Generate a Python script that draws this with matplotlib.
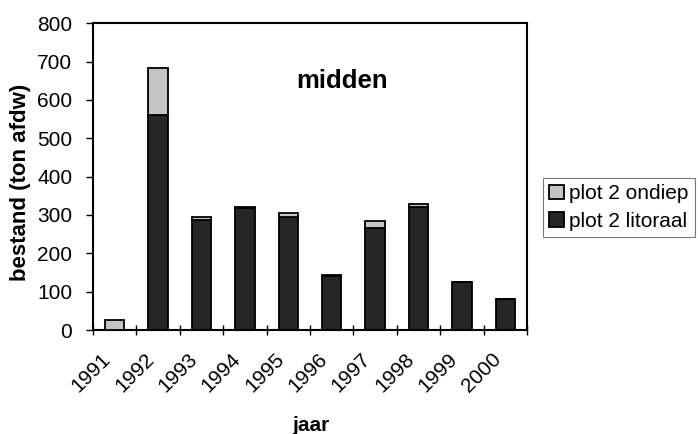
import numpy as np
import matplotlib
matplotlib.use("Agg")
import matplotlib.pyplot as plt
import matplotlib.transforms as mtransforms

plt.rcParams["font.family"] = ["Liberation Sans", "DejaVu Sans"]

# data
years = ["1991", "1992", "1993", "1994", "1995", "1996", "1997", "1998", "1999", "2000"]
litoraal = [0, 561, 288, 318, 295, 142, 265, 322, 125, 82]
ondiep = [25, 122, 7, 2, 10, 1, 20, 7, 0, 0]

fig = plt.figure(figsize=(6.98, 4.34), dpi=100)
ax = fig.add_axes([0.1332, 0.2396, 0.6218, 0.7068])

x = np.arange(len(years))
w = 0.45
ax.bar(x, litoraal, width=w, color="#262626", edgecolor="black", linewidth=1.3,
       label="plot 2 litoraal", zorder=3)
ax.bar(x, ondiep, width=w, bottom=litoraal, color="#c4c4c4", edgecolor="black",
       linewidth=1.3, label="plot 2 ondiep", zorder=3)

ax.set_xlim(-0.5, len(years) - 0.5)
ax.set_ylim(0, 800)
ax.set_yticks(np.arange(0, 801, 100))

# ticks between categories, labels at the centres
ax.set_xticks(np.arange(-0.5, len(years), 1.0))
ax.set_xticklabels([])
ax.set_xticks(x, minor=True)
ax.set_xticklabels(years, minor=True, rotation=45, ha="right", va="top",
                   rotation_mode="anchor")
ax.tick_params(axis="x", which="minor", length=0, pad=14, labelsize=15)
ax.tick_params(axis="x", which="major", direction="inout", length=7, width=1)
ax.tick_params(axis="y", direction="out", length=5, width=1, labelsize=15, pad=10)

offset = mtransforms.ScaledTranslation(-14 / 100, 0, fig.dpi_scale_trans)
for lab in ax.get_xticklabels(minor=True):
    lab.set_transform(lab.get_transform() + offset)

for sp in ax.spines.values():
    sp.set_linewidth(1.5)
    sp.set_color("black")

ax.text(0.574, 0.812, "midden", transform=ax.transAxes, ha="center", va="center",
        fontsize=18.5, fontweight="bold")

ax.set_xlabel("jaar", fontsize=15, fontweight="bold")
ax.xaxis.set_label_coords(0.503, -0.281)
ax.set_ylabel("bestand (ton afdw)", fontsize=16, fontweight="bold")
ax.yaxis.set_label_coords(-0.143, 0.48)

handles, labels = ax.get_legend_handles_labels()
leg = fig.legend(handles[::-1], labels[::-1], loc="upper left",
                 bbox_to_anchor=(543 / 698, 1 - 178 / 434), fontsize=15,
                 frameon=True, fancybox=False, edgecolor="#555555",
                 handlelength=0.7, handleheight=0.7, handletextpad=0.25,
                 borderpad=0.3, labelspacing=0.4, borderaxespad=0)
leg.get_frame().set_linewidth(0.8)

fig.savefig("out.png", dpi=100)
